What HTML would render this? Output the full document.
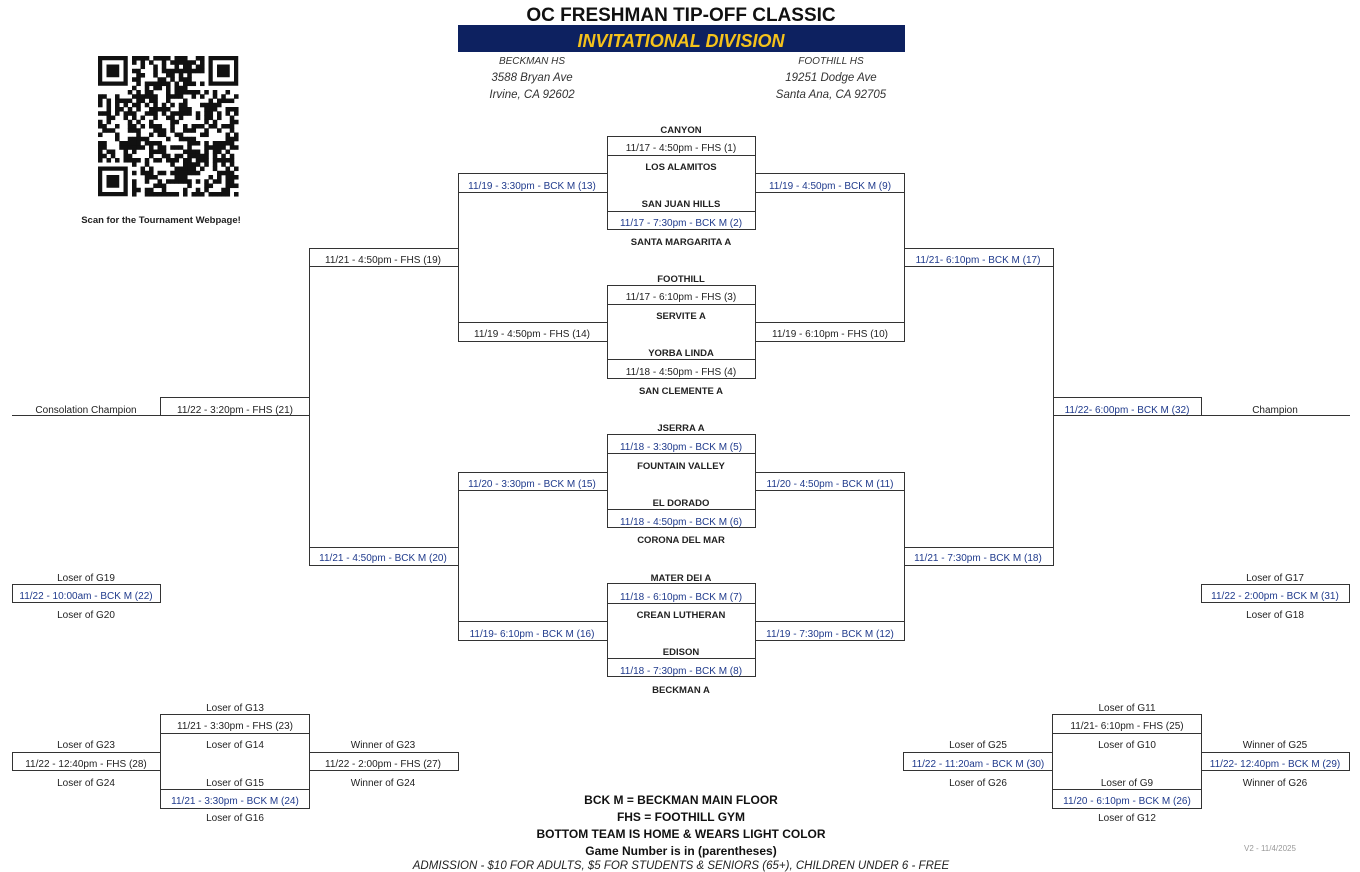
<!DOCTYPE html>
<html><head><meta charset="utf-8"><style>
html,body{margin:0;padding:0;background:#fff}
svg{display:block}
text{font-family:"Liberation Sans",sans-serif}
.d{font-size:10px;fill:#222;text-anchor:middle}
.b{font-size:10px;fill:#1f3a8c;text-anchor:middle}
.t{font-size:9.5px;font-weight:bold;fill:#222;text-anchor:middle}
.a{font-size:11.5px;font-style:italic;fill:#333;text-anchor:middle}
.l{font-size:12px;font-weight:bold;fill:#111;text-anchor:middle}
</style></head><body>
<svg id="s" width="1360" height="872" viewBox="0 0 1360 872" xmlns="http://www.w3.org/2000/svg">
<text x="681" y="21" style="font-size:19px;font-weight:bold;fill:#111;text-anchor:middle">OC FRESHMAN TIP-OFF CLASSIC</text>
<rect x="458" y="25" width="447" height="27" fill="#0d2160"/>
<text x="681" y="47" style="font-size:18px;font-weight:bold;font-style:italic;fill:#f5c21b;text-anchor:middle">INVITATIONAL DIVISION</text>
<text class="a" x="532" y="64" style="font-size:10px">BECKMAN HS</text>
<text class="a" x="532" y="81">3588 Bryan Ave</text>
<text class="a" x="532" y="98">Irvine, CA 92602</text>
<text class="a" x="831" y="64" style="font-size:10px">FOOTHILL HS</text>
<text class="a" x="831" y="81">19251 Dodge Ave</text>
<text class="a" x="831" y="98">Santa Ana, CA 92705</text>
<g id="qr"></g>
<text x="161" y="223" style="font-size:9.5px;font-weight:bold;fill:#222;text-anchor:middle">Scan for the Tournament Webpage!</text>

<g fill="none" stroke="#333" stroke-width="1">
<rect x="607.5" y="136.5" width="148" height="93"/><line x1="607" y1="155.5" x2="755" y2="155.5"/><line x1="607" y1="211.5" x2="755" y2="211.5"/>
<rect x="607.5" y="285.5" width="148" height="93"/><line x1="607" y1="304.5" x2="755" y2="304.5"/><line x1="607" y1="359.5" x2="755" y2="359.5"/>
<rect x="607.5" y="434.5" width="148" height="93"/><line x1="607" y1="453.5" x2="755" y2="453.5"/><line x1="607" y1="509.5" x2="755" y2="509.5"/>
<rect x="607.5" y="583.5" width="148" height="93"/><line x1="607" y1="603.5" x2="755" y2="603.5"/><line x1="607" y1="658.5" x2="755" y2="658.5"/>
<path d="M607.5 173.5H458.5V341.5H607.5M458.5 192.5H607.5M458.5 322.5H607.5"/>
<path d="M607.5 472.5H458.5V640.5H607.5M458.5 490.5H607.5M458.5 621.5H607.5"/>
<path d="M755.5 173.5H904.5V341.5H755.5M904.5 192.5H755.5M904.5 322.5H755.5"/>
<path d="M755.5 472.5H904.5V640.5H755.5M904.5 490.5H755.5M904.5 621.5H755.5"/>
<path d="M458.5 248.5H309.5V565.5H458.5M309.5 266.5H458.5M309.5 547.5H458.5"/>
<path d="M904.5 248.5H1053.5V565.5H904.5M1053.5 266.5H904.5M1053.5 547.5H904.5"/>
<path d="M309.5 397.5H160.5V415.5H309.5M160.5 415.5H12"/>
<path d="M1053.5 397.5H1201.5V415.5H1053.5M1201.5 415.5H1350"/>
<rect x="12.5" y="584.5" width="148" height="18"/>
<rect x="1201.5" y="584.5" width="148" height="18"/>
<rect x="160.5" y="714.5" width="149" height="94"/><line x1="160" y1="733.5" x2="309" y2="733.5"/><line x1="160" y1="789.5" x2="309" y2="789.5"/>
<rect x="12.5" y="752.5" width="148" height="18"/>
<rect x="309.5" y="752.5" width="149" height="18"/>
<rect x="1052.5" y="714.5" width="149" height="94"/><line x1="1052" y1="733.5" x2="1201" y2="733.5"/><line x1="1052" y1="789.5" x2="1201" y2="789.5"/>
<rect x="903.5" y="752.5" width="149" height="18"/>
<rect x="1201.5" y="752.5" width="148" height="18"/>
</g>

<text class="t" x="681" y="133">CANYON</text>
<text class="d" x="681" y="151">11/17 - 4:50pm - FHS  (1)</text>
<text class="t" x="681" y="170">LOS ALAMITOS</text>
<text class="t" x="681" y="207">SAN JUAN HILLS</text>
<text class="b" x="681" y="226">11/17 - 7:30pm - BCK M  (2)</text>
<text class="t" x="681" y="245">SANTA MARGARITA A</text>
<text class="t" x="681" y="282">FOOTHILL</text>
<text class="d" x="681" y="300">11/17 - 6:10pm - FHS  (3)</text>
<text class="t" x="681" y="319">SERVITE A</text>
<text class="t" x="681" y="356">YORBA LINDA</text>
<text class="d" x="681" y="375">11/18 - 4:50pm - FHS  (4)</text>
<text class="t" x="681" y="394">SAN CLEMENTE A</text>
<text class="t" x="681" y="431">JSERRA A</text>
<text class="b" x="681" y="450">11/18 - 3:30pm - BCK M  (5)</text>
<text class="t" x="681" y="469">FOUNTAIN VALLEY</text>
<text class="t" x="681" y="506">EL DORADO</text>
<text class="b" x="681" y="525">11/18 - 4:50pm - BCK M  (6)</text>
<text class="t" x="681" y="543">CORONA DEL MAR</text>
<text class="t" x="681" y="581">MATER DEI A</text>
<text class="b" x="681" y="600">11/18 - 6:10pm - BCK M  (7)</text>
<text class="t" x="681" y="618">CREAN LUTHERAN</text>
<text class="t" x="681" y="655">EDISON</text>
<text class="b" x="681" y="674">11/18 - 7:30pm - BCK M  (8)</text>
<text class="t" x="681" y="693">BECKMAN A</text>

<text class="b" x="532" y="189">11/19 - 3:30pm - BCK M  (13)</text>
<text class="d" x="532" y="337">11/19 - 4:50pm - FHS  (14)</text>
<text class="b" x="532" y="487">11/20 - 3:30pm - BCK M  (15)</text>
<text class="b" x="532" y="637">11/19- 6:10pm - BCK M  (16)</text>
<text class="b" x="830" y="189">11/19 - 4:50pm - BCK M  (9)</text>
<text class="d" x="830" y="337">11/19 - 6:10pm - FHS  (10)</text>
<text class="b" x="830" y="487">11/20 - 4:50pm - BCK M  (11)</text>
<text class="b" x="830" y="637">11/19 - 7:30pm - BCK M  (12)</text>
<text class="d" x="383" y="263">11/21 - 4:50pm - FHS  (19)</text>
<text class="b" x="383" y="561">11/21 - 4:50pm - BCK M  (20)</text>
<text class="b" x="978" y="263">11/21- 6:10pm - BCK M  (17)</text>
<text class="b" x="978" y="561">11/21 - 7:30pm - BCK M  (18)</text>
<text class="d" x="235" y="413">11/22 - 3:20pm - FHS  (21)</text>
<text class="d" x="86" y="413">Consolation Champion</text>
<text class="b" x="1127" y="413">11/22- 6:00pm - BCK M  (32)</text>
<text class="d" x="1275" y="413">Champion</text>

<text class="d" x="86" y="581">Loser of  G19</text>
<text class="b" x="86" y="599">11/22 - 10:00am - BCK M (22)</text>
<text class="d" x="86" y="618">Loser of  G20</text>
<text class="d" x="1275" y="581">Loser of  G17</text>
<text class="b" x="1275" y="599">11/22 - 2:00pm - BCK M (31)</text>
<text class="d" x="1275" y="618">Loser of  G18</text>

<text class="d" x="235" y="711">Loser of  G13</text>
<text class="d" x="235" y="729">11/21 - 3:30pm - FHS  (23)</text>
<text class="d" x="235" y="748">Loser of  G14</text>
<text class="d" x="235" y="786">Loser of  G15</text>
<text class="b" x="235" y="804">11/21 - 3:30pm - BCK M  (24)</text>
<text class="d" x="235" y="821">Loser of  G16</text>
<text class="d" x="86" y="748">Loser of  G23</text>
<text class="d" x="86" y="767">11/22 - 12:40pm - FHS (28)</text>
<text class="d" x="86" y="786">Loser of  G24</text>
<text class="d" x="383" y="748">Winner of  G23</text>
<text class="d" x="383" y="767">11/22 - 2:00pm - FHS (27)</text>
<text class="d" x="383" y="786">Winner of  G24</text>

<text class="d" x="1127" y="711">Loser of  G11</text>
<text class="d" x="1127" y="729">11/21- 6:10pm - FHS  (25)</text>
<text class="d" x="1127" y="748">Loser of  G10</text>
<text class="d" x="1127" y="786">Loser of  G9</text>
<text class="b" x="1127" y="804">11/20 - 6:10pm - BCK M  (26)</text>
<text class="d" x="1127" y="821">Loser of  G12</text>
<text class="d" x="978" y="748">Loser of G25</text>
<text class="b" x="978" y="767">11/22 - 11:20am - BCK M  (30)</text>
<text class="d" x="978" y="786">Loser of  G26</text>
<text class="d" x="1275" y="748">Winner of G25</text>
<text class="b" x="1275" y="767">11/22- 12:40pm - BCK M  (29)</text>
<text class="d" x="1275" y="786">Winner of  G26</text>

<text class="l" x="681" y="804">BCK M = BECKMAN MAIN FLOOR</text>
<text class="l" x="681" y="821">FHS = FOOTHILL GYM</text>
<text class="l" x="681" y="838">BOTTOM TEAM IS HOME &amp; WEARS LIGHT COLOR</text>
<text class="l" x="681" y="855">Game Number is in (parentheses)</text>
<text x="681" y="869" style="font-size:11.5px;font-style:italic;fill:#222;text-anchor:middle">ADMISSION  -  $10 FOR ADULTS,  $5 FOR STUDENTS &amp; SENIORS (65+),  CHILDREN UNDER 6 - FREE</text>
<text x="1270" y="851" style="font-size:8px;fill:#999;text-anchor:middle">V2 - 11/4/2025</text>
</svg>
<script>
(function(){
var g=document.getElementById('qr'),N=33,s=4.25,x0=98,y0=56,seed=987,h='';
function r(){seed=(seed*1103515245+12345)&0x7fffffff;return seed/0x7fffffff;}
function fin(i,j){return (i<8&&j<8)||(i<8&&j>=N-8)||(i>=N-8&&j<8);}
for(var i=0;i<N;i++)for(var j=0;j<N;j++){if(fin(i,j))continue;if(r()<0.55)h+='<rect x="'+(x0+j*s)+'" y="'+(y0+i*s)+'" width="'+(s+0.3)+'" height="'+(s+0.3)+'" fill="#111"/>';}
[[0,0],[0,N-7],[N-7,0]].forEach(function(p){var X=x0+p[1]*s,Y=y0+p[0]*s;
h+='<rect x="'+(X+s/2)+'" y="'+(Y+s/2)+'" width="'+(6*s)+'" height="'+(6*s)+'" fill="none" stroke="#111" stroke-width="'+s+'"/>';
h+='<rect x="'+(X+2*s)+'" y="'+(Y+2*s)+'" width="'+(3*s)+'" height="'+(3*s)+'" fill="#111"/>';});
g.innerHTML=h;})();
</script>
</body></html>
